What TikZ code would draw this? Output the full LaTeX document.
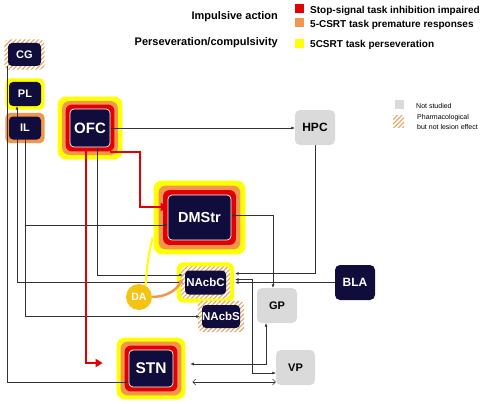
\documentclass[tikz,border=0pt]{standalone}
\usepackage{fontspec}
\setmainfont{Liberation Sans}
\usetikzlibrary{arrows.meta,patterns.meta}
\definecolor{navy}{RGB}{16,12,60}
\definecolor{redc}{RGB}{228,0,0}
\definecolor{orangec}{RGB}{242,150,78}
\definecolor{yellowc}{RGB}{255,255,0}
\definecolor{greyc}{RGB}{218,218,218}
\definecolor{dagold}{RGB}{245,195,20}
\definecolor{hatchc}{RGB}{226,165,100}
\pgfdeclarelayer{halo}
\pgfdeclarelayer{wires}
\pgfsetlayers{halo,wires,main}
\newcommand{\sz}[1]{\fontsize{#1}{#1}\selectfont}
\newcommand{\halo}[3]{\path[#3] ([shift={(-#2,-#2)}]#1.south west) rectangle ([shift={(#2,#2)}]#1.north east);}
\tikzset{
  core/.style={fill=navy, text=white, font=\bfseries, rounded corners=4pt, inner sep=0pt},
  hot/.style={core, draw=white, line width=0.7pt},
  quiet/.style={fill=greyc, font=\bfseries, rounded corners=5pt, inner sep=0pt, minimum width=40pt, minimum height=35pt},
  hatch/.style={preaction={fill=white}, pattern={Lines[angle=45,distance=3.2pt,line width=1.1pt]}, pattern color=hatchc},
  wire/.style={draw=black!80, line width=0.5pt, -{Latex[length=3.5pt,width=3pt]}},
  wire2/.style={wire, {Latex[length=3.5pt,width=3pt]}-{Latex[length=3.5pt,width=3pt]}},
  open2/.style={draw=black!80, line width=0.5pt, {Straight Barb[length=3pt,width=6pt]}-{Straight Barb[length=3pt,width=6pt]}},
  redwire/.style={draw=redc, line width=2pt, -{Triangle[length=7pt,width=8pt]}}
}
\begin{document}
\begin{tikzpicture}[x=1pt,y=-1pt]
\useasboundingbox (0,0) rectangle (490,404);
\node[core, minimum width=33pt, minimum height=23pt] (CG) at (24.5,54.5) {\sz{11}CG};
\node[core, minimum width=32pt, minimum height=24pt] (PL) at (25,94) {\sz{11}PL};
\node[core, minimum width=32pt, minimum height=23pt] (IL) at (25,128) {\sz{11}IL};
\node[hot, minimum width=40pt, minimum height=38pt] (OFC) at (90,128) {\sz{15}OFC};
\node[hot, minimum width=63pt, minimum height=45pt] (DMStr) at (199.5,217.5) {\sz{14.5}DMStr};
\node[core, minimum width=41pt, minimum height=24pt] (NAcbC) at (205.5,282.5) {\sz{11.5}NAcbC};
\node[core, minimum width=38pt, minimum height=23pt] (NAcbS) at (221,316.5) {\sz{11.5}NAcbS};
\node[hot, minimum width=44pt, minimum height=37pt] (STN) at (151,368.5) {\sz{15.5}STN};
\node[quiet] (HPC) at (315,127.5) {\sz{12}HPC};
\node[quiet] (GP) at (277,305.5) {\sz{11}GP};
\node[quiet, minimum width=39pt] (VP) at (295.5,367.5) {\sz{11}VP};
\node[core, minimum width=40pt, minimum height=35pt, rounded corners=5pt] (BLA) at (355,282.5) {\sz{12}BLA};
\node[circle, fill=dagold, text=white, minimum size=26pt, inner sep=0pt] (DA) at (139,297) {\bfseries\sz{10.5}DA};
\node[anchor=east, inner sep=0pt] (imp) at (278,17) {\bfseries\sz{11}Impulsive action};
\node[anchor=east, inner sep=0pt] (pers) at (278,43) {\bfseries\sz{11}Perseveration/compulsivity};
\foreach \c/\y/\t in {redc/9/Stop-signal task inhibition impaired,orangec/23/5-CSRT task premature responses,yellowc/43.5/5CSRT task perseveration}
  {
    \fill[\c] (295,\y-4.5) rectangle (304,\y+4.5);
    \node[anchor=west, inner sep=0pt] (key-\c) at (310,\y+1.5) {\bfseries\sz{10}\t};
  }
\fill[greyc] (395,100) rectangle (404,109);
\path[hatch] (393,115) rectangle (404,127);
\node[anchor=west, inner sep=0pt, font=\fontsize{7}{7}\selectfont] (nots) at (416,106) {Not studied};
\node[anchor=west, inner sep=0pt, align=left, font=\fontsize{7}{9.5}\selectfont] (pharm) at (417,122) {Pharmacological\\but not lesion effect};
\begin{pgfonlayer}{halo}
  \foreach \n/\a/\b/\c in {OFC/12pt/7.5pt/4pt,DMStr/14pt/9pt/4.5pt,STN/12pt/8pt/4pt}
    {
      \halo{\n}{\a}{fill=yellowc, rounded corners=8pt}
      \halo{\n}{\b}{fill=orangec, rounded corners=7pt}
      \halo{\n}{\c}{fill=redc, rounded corners=6pt}
    }
  \halo{PL}{3.5pt}{fill=yellowc, rounded corners=5pt}
  \halo{IL}{3.5pt}{fill=orangec, rounded corners=5pt}
  \halo{CG}{3.5pt}{hatch, rounded corners=5pt}
  \halo{NAcbC}{8pt}{fill=yellowc, rounded corners=7pt}
  \halo{NAcbC}{4pt}{hatch, rounded corners=5pt}
  \halo{NAcbS}{4pt}{hatch, rounded corners=5pt}
\end{pgfonlayer}
\begin{pgfonlayer}{wires}
  \draw[wire] (OFC.east) -- (OFC.east -| HPC.west);
  \draw[wire] (HPC.south) |- ([shift={(9pt,9pt)}]NAcbC.east);
  \draw[wire2] ([yshift=2pt]DMStr.east) -| ([xshift=-4pt]GP.north);
  \draw[wire] (BLA.west) -- ([xshift=9pt]NAcbC.east);
  \draw[wire2] ([shift={(9pt,3pt)}]NAcbC.east) -| ([shift={(-24pt,-5.5pt)}]VP.west) -- ([yshift=-5.5pt]VP.west);
  \draw[wire2] ([xshift=-11pt]GP.south) |- ([shift={(17pt,4.5pt)}]STN.east);
  \draw[open2] ([shift={(19pt,-13.5pt)}]STN.east) -- ([yshift=-14.5pt]VP.west);
  \draw[wire] ([xshift=-1pt]CG.south west) |- ([yshift=-13.5pt]STN.west);
  \draw[wire2] ([xshift=-8pt]PL.south) |- ([xshift=-2pt]NAcbC.west);
  \draw[wire] (IL.south) |- ([yshift=-7.5pt]DMStr.west);
  \draw[wire] (IL.south) |- ([xshift=-2pt]NAcbS.west);
  \draw[wire] ([xshift=7pt]OFC.south) |- ([shift={(-2pt,7.5pt)}]NAcbC.west);
  \draw[redwire] ([yshift=-5pt]OFC.south east) -- ++(30pt,0) |- ([yshift=10.5pt]DMStr.west);
  \draw[redwire] ([xshift=-4pt]OFC.south) |- ([shift={(-26pt,5.5pt)}]STN.west);
  \draw[yellowc, line width=2pt] (DA.60) to[bend left=5] ([shift={(-15pt,3pt)}]DMStr.south west);
  \draw[orangec, line width=2.5pt, -{Latex[length=5pt,width=6pt]}] (DA.east) to[bend right=30] ([shift={(-2pt,4pt)}]NAcbC.west);
\end{pgfonlayer}
\end{tikzpicture}
\end{document}
